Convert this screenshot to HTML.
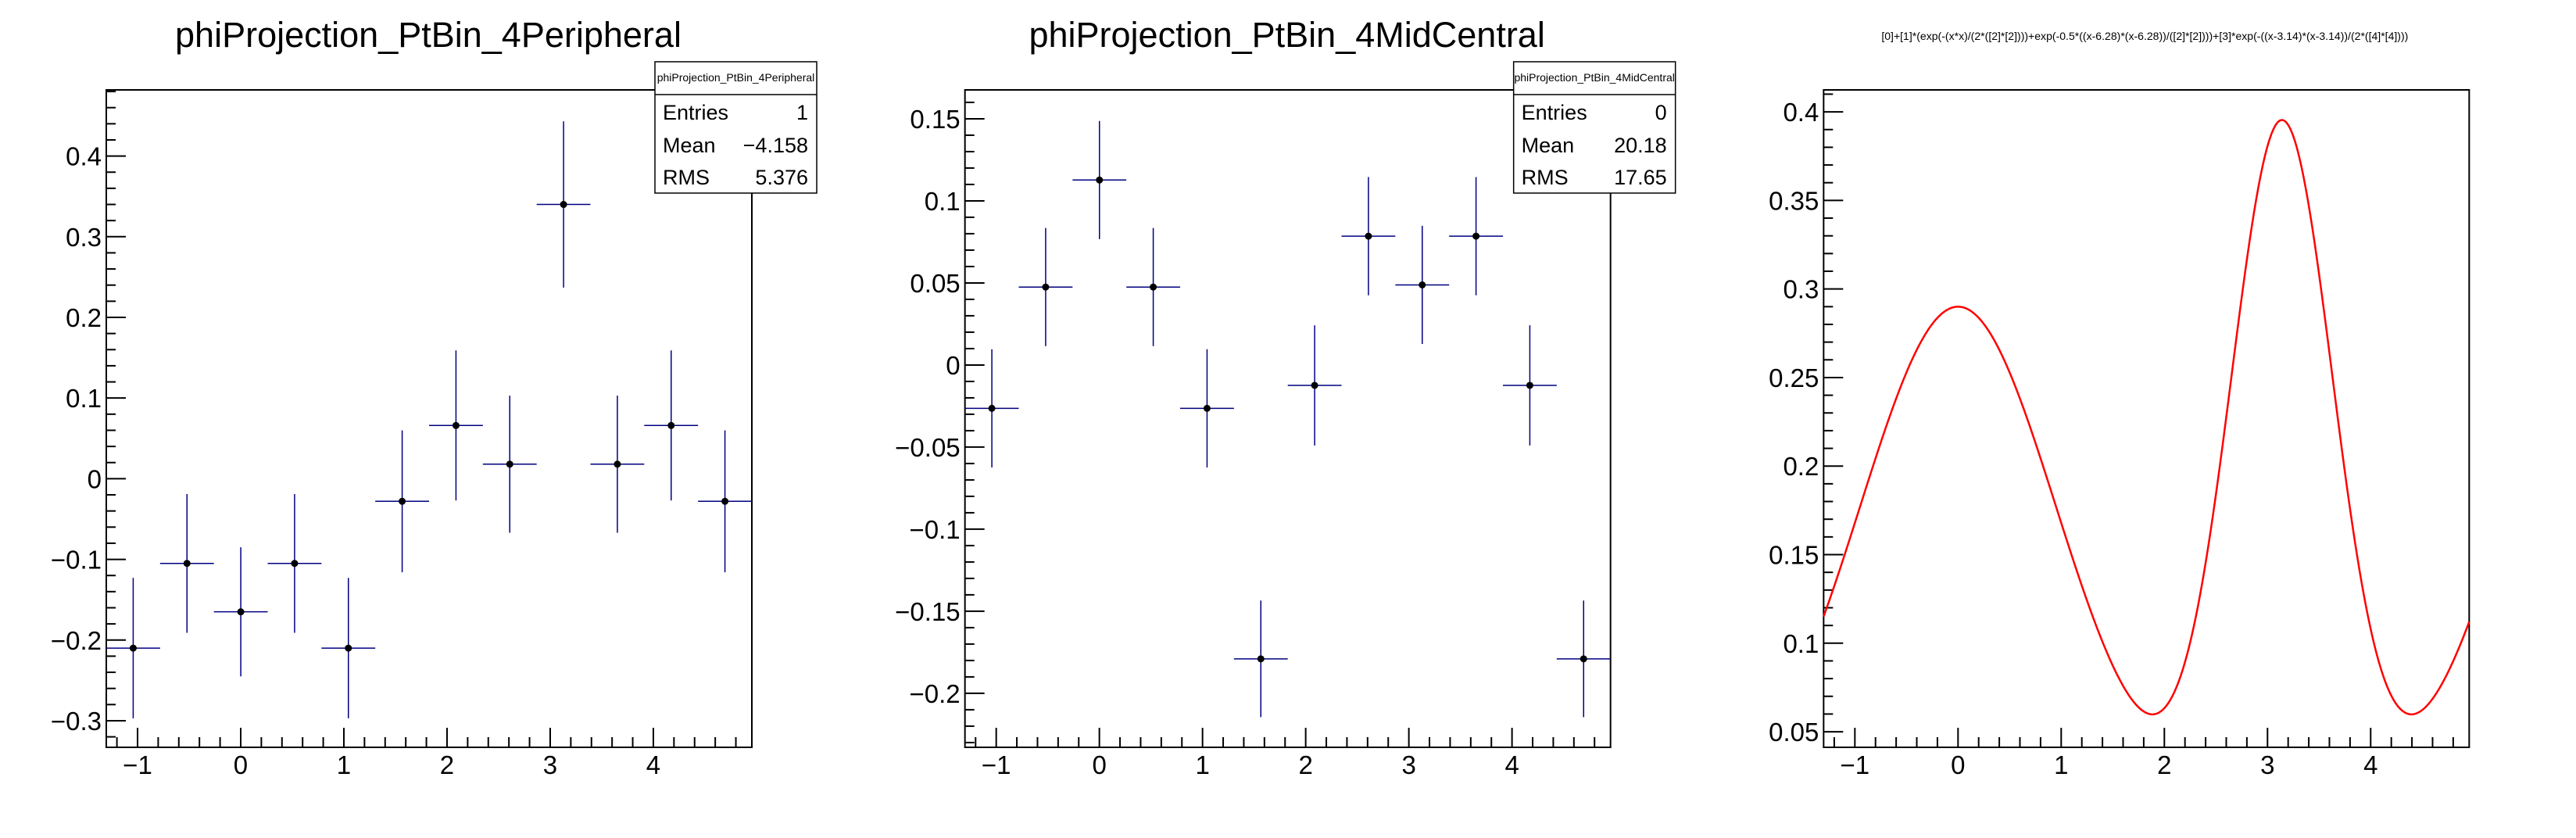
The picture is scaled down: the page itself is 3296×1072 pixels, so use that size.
<!DOCTYPE html>
<html><head><meta charset="utf-8"><style>
html,body{margin:0;padding:0;background:#fff;}
svg{display:block;font-family:"Liberation Sans",Arial,sans-serif;}
</style></head><body>
<svg id="c" width="3296" height="1072" viewBox="0 0 3296 1072" xmlns="http://www.w3.org/2000/svg"></svg>
<script>
// ---- data ----
const binCount = 12;
const xMin = -1.303, xMax = 4.955;
const xTickLabels = ["\u22121","0","1","2","3","4"];
const xTickValues = [-1,0,1,2,3,4];

const p1Values = [-0.21,-0.105,-0.165,-0.105,-0.21,-0.028,0.066,0.018,0.34,0.018,0.066,-0.028];
const p1Errors = [0.087,0.086,0.08,0.086,0.087,0.088,0.093,0.085,0.103,0.085,0.093,0.088];
const p1YRange = [-0.333,0.482];
const p1YTicks = [-0.3,-0.2,-0.1,0,0.1,0.2,0.3,0.4];
const p1YTickLabels = ["\u22120.3","\u22120.2","\u22120.1","0","0.1","0.2","0.3","0.4"];

const p2Values = [-0.0264,0.0475,0.1127,0.0475,-0.0264,-0.179,-0.0124,0.0785,0.0488,0.0785,-0.0124,-0.179];
const p2Errors = [0.036,0.036,0.036,0.036,0.036,0.0355,0.0366,0.036,0.036,0.036,0.0366,0.0355];
const p2YRange = [-0.2329,0.1676];
const p2YTicks = [-0.2,-0.15,-0.1,-0.05,0,0.05,0.1,0.15];
const p2YTickLabels = ["\u22120.2","\u22120.15","\u22120.1","\u22120.05","0","0.05","0.1","0.15"];

const p3Params = [0.003,0.287,0.95,0.39,0.5];
const p3YRange = [0.0412,0.4124];
const p3YTicks = [0.05,0.1,0.15,0.2,0.25,0.3,0.35,0.4];
const p3YTickLabels = ["0.05","0.1","0.15","0.2","0.25","0.3","0.35","0.4"];

// ---- drawing ----
const NS="http://www.w3.org/2000/svg";
const svg=document.getElementById('c');
function mk(tag,attrs,parent){const e=document.createElementNS(NS,tag);for(const k in attrs)e.setAttribute(k,attrs[k]);(parent||svg).appendChild(e);return e;}
const FL=136,FR=962,FT=115,FB=956;

function panel(ox,yr,yt,ytl,minorStep,name){
  const g=mk('g',{});
  
  
  const X=v=>ox+FL+(v-xMin)/(xMax-xMin)*(FR-FL);
  const Y=v=>FB-(v-yr[0])/(yr[1]-yr[0])*(FB-FT);
  const fr=mk('rect',{x:ox+FL,y:FT,width:FR-FL,height:FB-FT,fill:'none',stroke:'#000','stroke-width':2},g);
  
  
  for(let v=-1.2;v<=xMax+1e-9;v+=0.2){
    const isMaj=Math.abs(v-Math.round(v))<1e-6;
    const x=X(v);
    mk('line',{x1:x,x2:x,y1:FB,y2:FB-(isMaj?25:13),stroke:'#000','stroke-width':2},g);
  }
  xTickValues.forEach((v,i)=>{
    const t=mk('text',{x:X(v),y:990,'font-size':33,'text-anchor':'middle',fill:'#000'},g);
    t.textContent=xTickLabels[i];
    
    
  });
  const start=Math.ceil(yr[0]/minorStep-1e-9);
  for(let k=start;k*minorStep<=yr[1]+1e-9;k++){
    const v=k*minorStep;
    const isMaj=yt.some(t=>Math.abs(t-v)<1e-9);
    const y=Y(v);
    mk('line',{x1:ox+FL,x2:ox+FL+(isMaj?25:12),y1:y,y2:y,stroke:'#000','stroke-width':2},g);
  }
  yt.forEach((v,i)=>{
    const t=mk('text',{x:ox+FL-6,y:Y(v)+12,'font-size':33,'text-anchor':'end',fill:'#000'},g);
    t.textContent=ytl[i];
    
    
  });
  return {g,X,Y};
}

function histo(ox,vals,errs,yr,yt,ytl,minorStep,title,stats,name){
  const {g,X,Y}=panel(ox,yr,yt,ytl,minorStep,name);
  const tt=mk('text',{x:ox+548,y:60,'font-size':45,'text-anchor':'middle',fill:'#000'},g);
  tt.textContent=title;
  
  
  const bw=(xMax-xMin)/binCount;
  vals.forEach((v,i)=>{
    const c=xMin+bw*(i+0.5);
    const bg=mk('g',{},g);
    
    
    mk('line',{x1:X(c-bw/2),x2:X(c+bw/2),y1:Y(v),y2:Y(v),stroke:'#000080','stroke-width':1.5},bg);
    mk('line',{x1:X(c),x2:X(c),y1:Y(v-errs[i]),y2:Y(v+errs[i]),stroke:'#000080','stroke-width':1.5},bg);
    mk('circle',{cx:X(c),cy:Y(v),r:4.5,fill:'#000'},bg);
  });
  const sb=mk('g',{},g);
  
  
  mk('rect',{x:ox+838,y:79,width:207,height:168,fill:'#fff',stroke:'#000','stroke-width':1.5},sb);
  mk('line',{x1:ox+838,x2:ox+1045,y1:121,y2:121,stroke:'#000','stroke-width':1.5},sb);
  const h=mk('text',{x:ox+941.5,y:104,'font-size':14,'text-anchor':'middle',fill:'#000'},sb);
  h.textContent=title;
  const rows=[["Entries",stats[0]],["Mean",stats[1]],["RMS",stats[2]]];
  const bys=[153,195,236];
  rows.forEach((r,i)=>{
    const a=mk('text',{x:ox+848,y:bys[i],'font-size':27,fill:'#000'},sb);a.textContent=r[0];
    const b=mk('text',{x:ox+1034,y:bys[i],'font-size':27,'text-anchor':'end',fill:'#000'},sb);b.textContent=r[1];
  });
}

histo(0,p1Values,p1Errors,p1YRange,p1YTicks,p1YTickLabels,0.02,"phiProjection_PtBin_4Peripheral",["1","\u22124.158","5.376"],"peripheral-panel");
histo(1098.67,p2Values,p2Errors,p2YRange,p2YTicks,p2YTickLabels,0.01,"phiProjection_PtBin_4MidCentral",["0","20.18","17.65"],"midcentral-panel");

(function(){
  const ox=2197.33;
  const {g,X,Y}=panel(ox,p3YRange,p3YTicks,p3YTickLabels,0.01,"function-panel");
  const t=mk('text',{x:ox+547,y:51,'font-size':14,'text-anchor':'middle',fill:'#000',textLength:674,lengthAdjust:'spacingAndGlyphs'},g);
  t.textContent="[0]+[1]*(exp(-(x*x)/(2*([2]*[2])))+exp(-0.5*((x-6.28)*(x-6.28))/([2]*[2])))+[3]*exp(-((x-3.14)*(x-3.14))/(2*([4]*[4])))";
  
  
  const p=p3Params;
  const f=x=>p[0]+p[1]*(Math.exp(-(x*x)/(2*p[2]*p[2]))+Math.exp(-0.5*((x-6.28)*(x-6.28))/(p[2]*p[2])))+p[3]*Math.exp(-((x-3.14)*(x-3.14))/(2*p[4]*p[4]));
  let d='';
  const N=300;
  for(let i=0;i<=N;i++){const x=xMin+(xMax-xMin)*i/N;d+=(i?'L':'M')+X(x).toFixed(2)+','+Y(f(x)).toFixed(2);}
  const path=mk('path',{d:d,fill:'none',stroke:'#ff0000','stroke-width':2.5},g);
  
  
})();
</script>
</body></html>
